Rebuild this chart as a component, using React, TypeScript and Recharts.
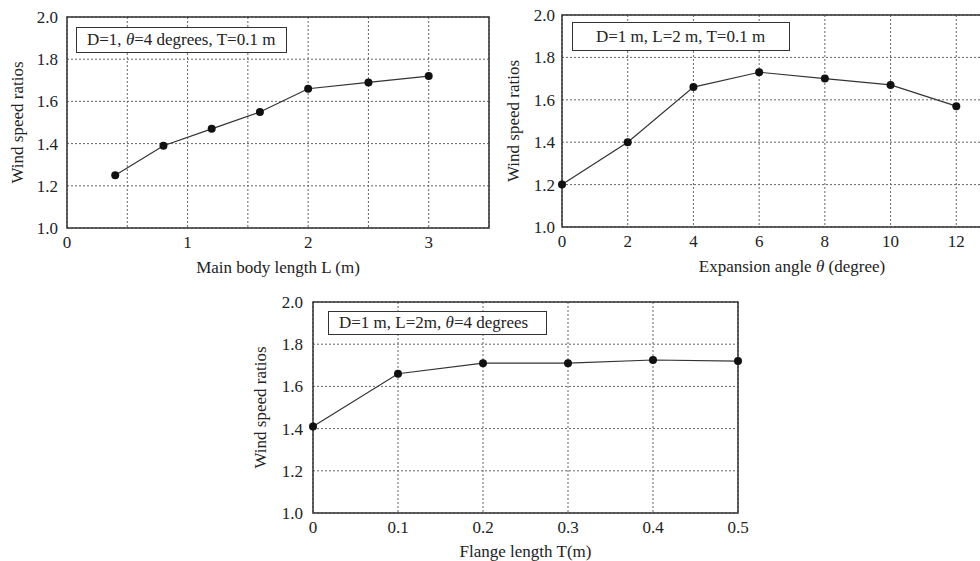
import { LineChart, Line, XAxis, YAxis, CartesianGrid, ReferenceArea, Label } from "recharts";

const FONT = '"Liberation Serif", "Times New Roman", serif';
const INK = "#222";

// panel 1: main body length
const bodyLength = [0.4, 0.8, 1.2, 1.6, 2.0, 2.5, 3.0];
const bodyRatio = [1.25, 1.39, 1.47, 1.55, 1.66, 1.69, 1.72];
const bodyTicks = [0, 0.5, 1, 1.5, 2, 2.5, 3, 3.5];

// panel 2: expansion angle
const angleDeg = [0, 2, 4, 6, 8, 10, 12];
const angleRatio = [1.2, 1.4, 1.66, 1.73, 1.7, 1.67, 1.57];
const angleTicks = [0, 2, 4, 6, 8, 10, 12, 14];

// panel 3: flange length
const flangeT = [0, 0.1, 0.2, 0.3, 0.4, 0.5];
const flangeRatio = [1.41, 1.66, 1.71, 1.71, 1.725, 1.72];
const flangeTicks = [0, 0.1, 0.2, 0.3, 0.4, 0.5];

const ratioTicks = [1.0, 1.2, 1.4, 1.6, 1.8, 2.0];

type Pt = { x: number; y: number };
type Seg = { t: string; italic?: boolean };

interface PanelProps {
  data: Pt[];
  xTicks: number[];
  xFormat: (v: number) => string;
  xLabel: Seg[];
  yLabel: string;
  width: number;
  height: number;
  margin: { top: number; right: number; bottom: number; left: number };
  yAxisWidth: number;
  xAxisHeight: number;
  yLabelOffset: number;
  xLabelOffset: number;
  yTickMargin: number;
}

function Panel(p: PanelProps) {
  const xMin = p.xTicks[0];
  const xMax = p.xTicks[p.xTicks.length - 1];
  const tickStyle = { fontFamily: FONT, fontSize: 17, fill: INK };

  // bottom title with optional italic pieces (e.g. theta)
  const renderXLabel = (props: any) => {
    const vb = props.viewBox || {};
    const cx = vb.x + vb.width / 2;
    const by = vb.y + vb.height - p.xLabelOffset;
    return (
      <text x={cx} y={by} textAnchor="middle" fontFamily={FONT} fontSize={17} fill={INK}>
        {p.xLabel.map((s, i) => (
          <tspan key={i} fontStyle={s.italic ? "italic" : "normal"}>
            {s.t}
          </tspan>
        ))}
      </text>
    );
  };

  return (
    <LineChart width={p.width} height={p.height} data={p.data} margin={p.margin}>
      <CartesianGrid stroke="#666" strokeDasharray="2 2" strokeWidth={1} />
      <XAxis
        type="number"
        dataKey="x"
        domain={[xMin, xMax]}
        ticks={p.xTicks}
        tickFormatter={p.xFormat}
        interval={0}
        height={p.xAxisHeight}
        tick={tickStyle}
        tickLine={false}
        axisLine={false}
      >
        <Label content={renderXLabel} />
      </XAxis>
      <YAxis
        type="number"
        domain={[1, 2]}
        ticks={ratioTicks}
        tickFormatter={(v: number) => v.toFixed(1)}
        interval={0}
        width={p.yAxisWidth}
        tick={tickStyle}
        tickMargin={p.yTickMargin}
        tickLine={false}
        axisLine={false}
        label={{
          value: p.yLabel,
          angle: -90,
          position: "insideLeft",
          offset: p.yLabelOffset,
          style: { fontFamily: FONT, fontSize: 17, fill: INK, textAnchor: "middle" },
        }}
      />
      <ReferenceArea x1={xMin} x2={xMax} y1={1} y2={2} fill="none" stroke="#333" strokeWidth={1.5} />
      <Line
        type="linear"
        dataKey="y"
        stroke="#333"
        strokeWidth={1.2}
        dot={{ r: 4, fill: "#111", stroke: "#111", strokeWidth: 0 }}
        activeDot={false}
        isAnimationActive={false}
      />
    </LineChart>
  );
}

function NoteBox({ left, top, width, height, padLeft, children }: any) {
  return (
    <div
      style={{
        position: "absolute",
        left,
        top,
        width,
        height,
        boxSizing: "border-box",
        border: "1.5px solid #333",
        background: "#fff",
        fontFamily: FONT,
        fontSize: 17,
        color: INK,
        display: "flex",
        alignItems: "center",
        paddingLeft: padLeft,
        whiteSpace: "nowrap",
      }}
    >
      {children}
    </div>
  );
}

const fmtAngle = (v: number) => (v <= 12 ? String(v) : "");
const fmtFlange = (v: number) => String(v);
const fmtInt = (v: number) => (Number.isInteger(v) && v < 3.5 ? String(v) : "");

export default function App() {
  const bodyData = bodyLength.map((x, i) => ({ x, y: bodyRatio[i] }));
  const angleData = angleDeg.map((x, i) => ({ x, y: angleRatio[i] }));
  const flangeData = flangeT.map((x, i) => ({ x, y: flangeRatio[i] }));

  return (
    <div
      style={{
        position: "absolute",
        left: 0,
        top: 0,
        width: 980,
        height: 561,
        overflow: "hidden",
        background: "#fff",
      }}
    >
      <div style={{ position: "absolute", left: 0, top: 0 }}>
        <Panel
          data={bodyData}
          xTicks={bodyTicks}
          xFormat={fmtInt}
          xLabel={[{ t: "Main body length L (m)" }]}
          yLabel="Wind speed ratios"
          width={500}
          height={280}
          margin={{ top: 17, right: 11, bottom: 0, left: 0 }}
          yAxisWidth={67}
          xAxisHeight={52}
          yLabelOffset={17}
          xLabelOffset={7}
          yTickMargin={3}
        />
      </div>
      <div style={{ position: "absolute", left: 490, top: 0 }}>
        <Panel
          data={angleData}
          xTicks={angleTicks}
          xFormat={fmtAngle}
          xLabel={[{ t: "Expansion angle " }, { t: "θ", italic: true }, { t: " (degree)" }]}
          yLabel="Wind speed ratios"
          width={540}
          height={280}
          margin={{ top: 15, right: 8, bottom: 0, left: 0 }}
          yAxisWidth={72}
          xAxisHeight={53}
          yLabelOffset={23}
          xLabelOffset={8}
          yTickMargin={1}
        />
      </div>
      <div style={{ position: "absolute", left: 240, top: 290 }}>
        <Panel
          data={flangeData}
          xTicks={flangeTicks}
          xFormat={fmtFlange}
          xLabel={[{ t: "Flange length T(m)" }]}
          yLabel="Wind speed ratios"
          width={510}
          height={271}
          margin={{ top: 12, right: 12, bottom: 0, left: 0 }}
          yAxisWidth={73}
          xAxisHeight={48}
          yLabelOffset={20}
          xLabelOffset={4}
          yTickMargin={4}
        />
      </div>
      <NoteBox left={76} top={27} width={211} height={26} padLeft={10}>
        <span>
          D=1, <i>θ</i>=4 degrees, T=0.1 m
        </span>
      </NoteBox>
      <NoteBox left={572} top={22} width={218} height={29} padLeft={23}>
        <span>D=1 m, L=2 m, T=0.1 m</span>
      </NoteBox>
      <NoteBox left={328} top={311} width={219} height={24} padLeft={10}>
        <span>
          D=1 m, L=2m, <i>θ</i>=4 degrees
        </span>
      </NoteBox>
    </div>
  );
}
